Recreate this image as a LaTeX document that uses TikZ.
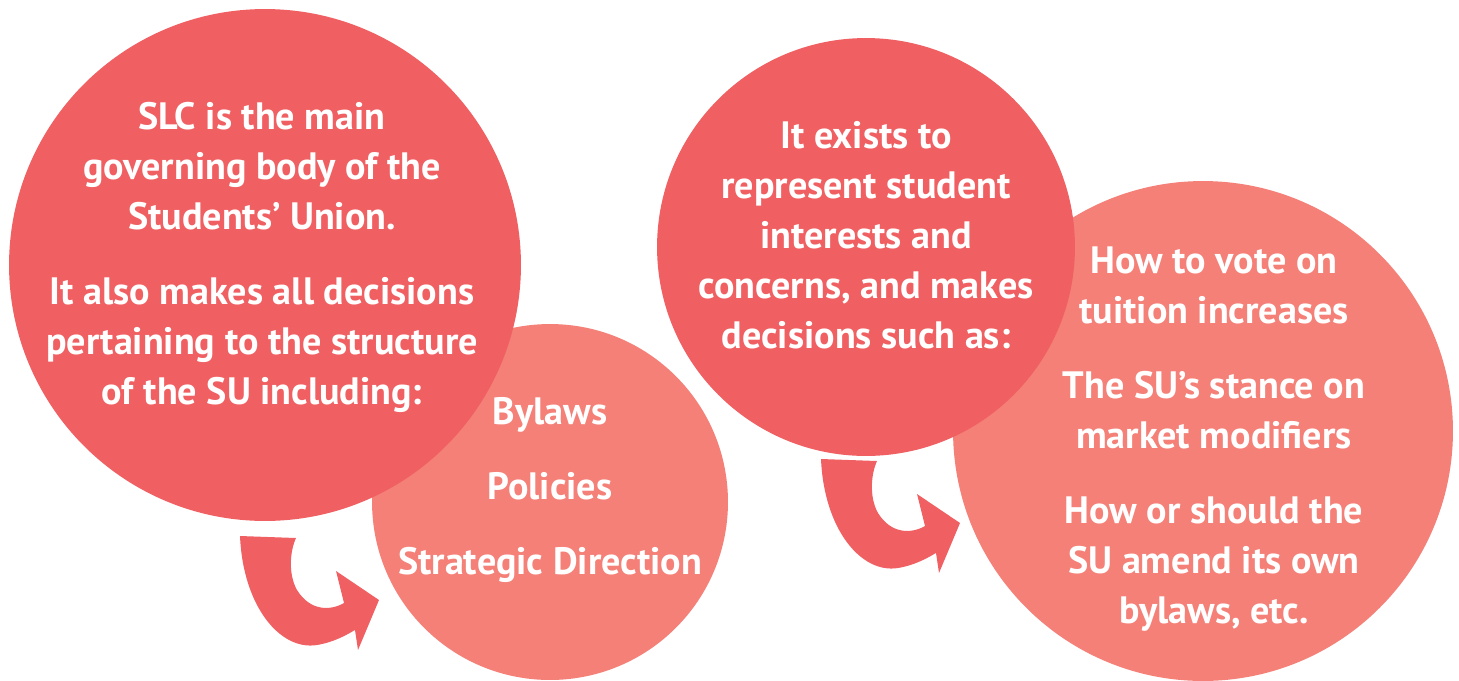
\documentclass[tikz,border=0pt]{standalone}
\usepackage{fontspec}
\setmainfont{PT Sans}
\usetikzlibrary{positioning}
\definecolor{darkred}{RGB}{240,96,98}
\definecolor{lightred}{RGB}{244,128,120}
\tikzset{
  blob/.style={circle, inner sep=0pt, draw=none},
  blurb/.style={text=white, font=\bfseries\fontsize{21.7}{28.45}\selectfont, align=center, inner sep=0pt},
  turnarrow/.pic={
    \fill[darkred] (0,0) .. controls (3,70) and (40,115) .. (77,109)
      .. controls (95,106) and (108,98) .. (115,94) -- (118,114) -- (139,64)
      -- (96,35) -- (104,67) .. controls (90,75) and (70,75) .. (57,54)
      .. controls (48,38) and (50,15) .. (56,2) -- cycle;
  }
}

\begin{document}
\begin{tikzpicture}[x=0.02cm, y=-0.02cm]
\useasboundingbox (0,0) rectangle (1459,680);

%circles, light ones first
\node[blob, fill=lightred, minimum size=7.12cm] (parts) at (550,502) {};
\node[blob, fill=darkred, minimum size=10.24cm] (slc) at (265,265) {};
\node[blob, fill=lightred, minimum size=10cm] (decisions) at (1203,431) {};
\node[blob, fill=darkred, minimum size=8.36cm] (role) at (866,247) {};

%arrows
\pic at (240,536) {turnarrow};
\pic at (821,459) {turnarrow};

%texts
\node[blurb] (slctext) at (262,257) {SLC is the main\\governing body of the\\Students’ Union.\\[14.2pt]
  It also makes all decisions\\pertaining to the structure\\of the SU including:};
\node[blurb] (partstext) at (550,490) {Bylaws\\[14.2pt]Policies\\[14.2pt]Strategic Direction};
\node[blurb] (roletext) at (866,235) {It exists to\\represent student\\interests and\\concerns, and makes\\decisions such as:};
\node[blurb] (decisionstext) at (1214,439) {How to vote on\\tuition increases\\[14.2pt]
  The SU’s stance on\\market modifiers\\[14.2pt]
  How or should the\\SU amend its own\\bylaws, etc.};

\end{tikzpicture}
\end{document}
